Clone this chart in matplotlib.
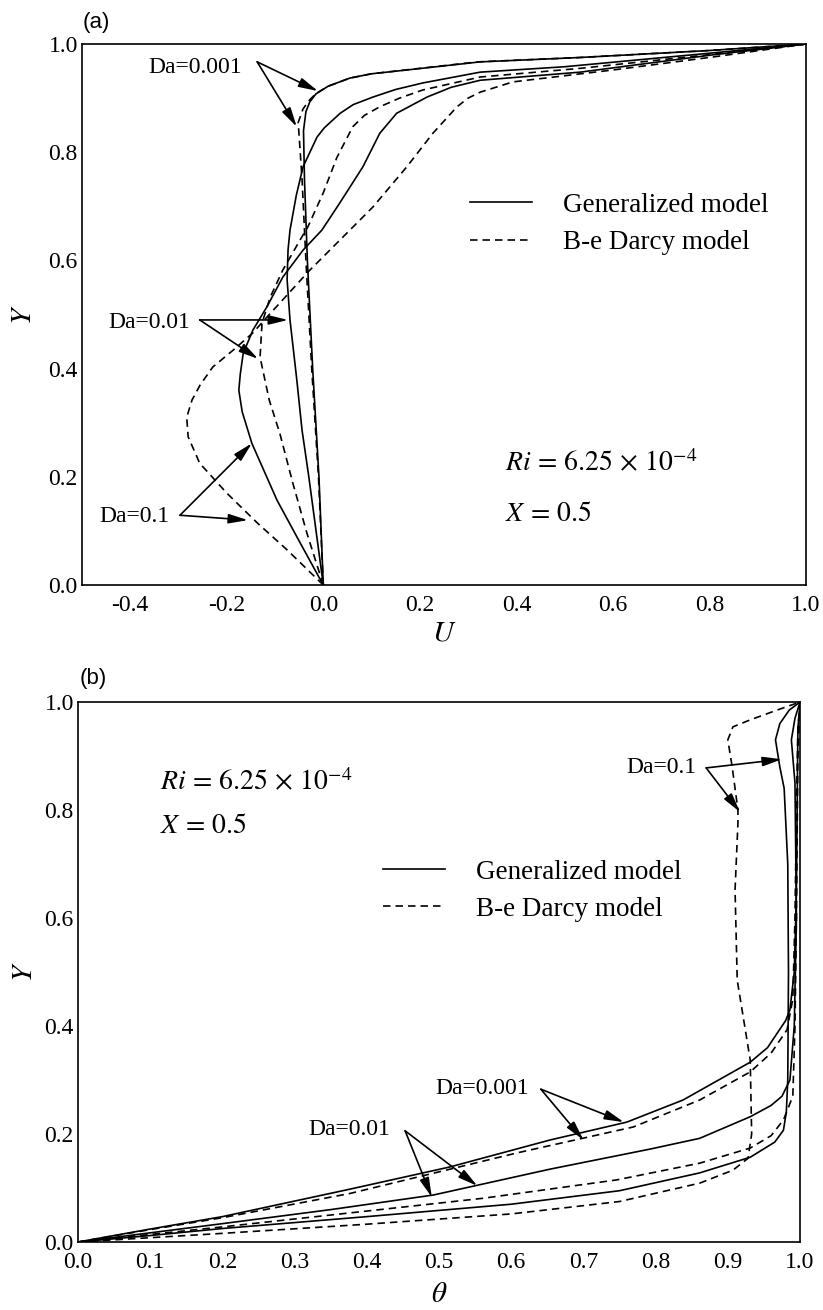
"""
Velocity (a) and temperature (b) profiles at X = 0.5 for three Darcy numbers,
generalized model vs. Brinkman-extended Darcy model.
"""

import matplotlib
matplotlib.use("Agg")  # headless
import matplotlib.pyplot as plt

plt.rcParams["font.family"] = ["Liberation Serif", "DejaVu Serif"]
plt.rcParams["mathtext.fontset"] = "stix"

# ── (a) U(Y) profiles ─────────────────────────────────────────────────────────
a_y_gen_0001 = [0, 0.2, 0.4, 0.6, 0.75, 0.84, 0.875, 0.893, 0.908, 0.922, 0.937, 0.945, 0.952, 0.967, 0.975, 0.988, 1.0]
a_u_gen_0001 = [0, -0.009, -0.022, -0.033, -0.039, -0.041, -0.036, -0.028, -0.015, 0.01, 0.055, 0.1, 0.173, 0.325, 0.53, 0.8, 1.0]
a_y_dar_0001 = [0, 0.2, 0.4, 0.6, 0.75, 0.855, 0.88, 0.895, 0.908, 0.922, 0.937, 0.945, 0.952, 0.967, 0.975, 0.988, 1.0]
a_u_dar_0001 = [0, -0.01, -0.024, -0.036, -0.044, -0.052, -0.042, -0.03, -0.016, 0.01, 0.055, 0.1, 0.17, 0.32, 0.53, 0.8, 1.0]

a_y_gen_001 = [0, 0.1, 0.2, 0.286, 0.38, 0.49, 0.565, 0.62, 0.656, 0.72, 0.773, 0.828, 0.845, 0.872, 0.888, 0.902, 0.916, 0.928, 0.948, 0.958, 0.983, 1.0]
a_u_gen_001 = [0, -0.015, -0.03, -0.044, -0.055, -0.069, -0.075, -0.073, -0.069, -0.056, -0.042, -0.013, 0.002, 0.035, 0.062, 0.103, 0.15, 0.206, 0.325, 0.5, 0.8, 1.0]
a_y_dar_001 = [0, 0.096, 0.188, 0.28, 0.342, 0.421, 0.484, 0.532, 0.582, 0.638, 0.662, 0.725, 0.79, 0.847, 0.868, 0.884, 0.9, 0.915, 0.939, 0.955, 0.981, 1.0]
a_u_dar_001 = [0, -0.034, -0.063, -0.09, -0.112, -0.131, -0.127, -0.11, -0.084, -0.048, -0.032, 0.0, 0.028, 0.061, 0.085, 0.117, 0.158, 0.206, 0.325, 0.532, 0.807, 1.0]

a_y_gen_01 = [0, 0.078, 0.157, 0.262, 0.32, 0.36, 0.39, 0.428, 0.471, 0.514, 0.569, 0.619, 0.656, 0.706, 0.773, 0.835, 0.872, 0.902, 0.92, 0.933, 0.948, 0.98, 1.0]
a_u_gen_01 = [0, -0.048, -0.096, -0.148, -0.168, -0.175, -0.172, -0.166, -0.146, -0.117, -0.084, -0.042, -0.003, 0.034, 0.082, 0.117, 0.152, 0.215, 0.265, 0.325, 0.532, 0.807, 1.0]
a_y_dar_01 = [0, 0.065, 0.115, 0.17, 0.225, 0.274, 0.31, 0.342, 0.37, 0.403, 0.434, 0.466, 0.495, 0.582, 0.656, 0.699, 0.773, 0.835, 0.884, 0.9, 0.911, 0.93, 0.952, 0.976, 1.0]
a_u_dar_01 = [0, -0.075, -0.137, -0.2, -0.256, -0.28, -0.283, -0.272, -0.255, -0.229, -0.187, -0.146, -0.117, -0.028, 0.055, 0.103, 0.173, 0.227, 0.277, 0.3, 0.325, 0.393, 0.6, 0.807, 1.0]

# ── (b) θ(Y) profiles ─────────────────────────────────────────────────────────
b_t_gen_0001 = [0, 0.1, 0.2, 0.377, 0.515, 0.654, 0.76, 0.838, 0.931, 0.955, 0.97, 0.98, 0.986, 0.992, 0.995, 0.996, 0.997, 1.0]
b_y_gen_0001 = [0, 0.024, 0.047, 0.098, 0.139, 0.189, 0.222, 0.263, 0.333, 0.36, 0.39, 0.41, 0.43, 0.5, 0.65, 0.8, 0.95, 1.0]
b_t_dar_0001 = [0, 0.1, 0.2, 0.377, 0.608, 0.769, 0.861, 0.931, 0.96, 0.982, 0.99, 0.993, 0.995, 0.997, 1.0]
b_y_dar_0001 = [0, 0.023, 0.045, 0.09, 0.165, 0.213, 0.263, 0.315, 0.35, 0.393, 0.45, 0.6, 0.8, 0.95, 1.0]

b_t_gen_001 = [0, 0.1, 0.2, 0.35, 0.492, 0.654, 0.792, 0.861, 0.931, 0.96, 0.975, 0.986, 0.992, 0.995, 0.993, 0.988, 0.993, 1.0]
b_y_gen_001 = [0, 0.017, 0.034, 0.06, 0.087, 0.135, 0.172, 0.192, 0.232, 0.253, 0.27, 0.3, 0.4, 0.6, 0.85, 0.93, 0.97, 1.0]
b_t_dar_001 = [0, 0.1, 0.2, 0.35, 0.561, 0.746, 0.861, 0.931, 0.96, 0.977, 0.99, 0.993, 0.995, 0.997, 1.0]
b_y_dar_001 = [0, 0.014, 0.028, 0.05, 0.081, 0.115, 0.146, 0.174, 0.197, 0.226, 0.27, 0.4, 0.6, 0.9, 1.0]

b_t_gen_01 = [0, 0.1, 0.2, 0.4, 0.6, 0.75, 0.861, 0.931, 0.965, 0.977, 0.981, 0.983, 0.984, 0.983, 0.978, 0.972, 0.966, 0.972, 0.985, 1.0]
b_y_gen_01 = [0, 0.012, 0.025, 0.047, 0.07, 0.095, 0.128, 0.157, 0.185, 0.207, 0.24, 0.3, 0.5, 0.7, 0.84, 0.88, 0.93, 0.96, 0.985, 1.0]
b_t_dar_01 = [0, 0.1, 0.2, 0.4, 0.6, 0.75, 0.861, 0.907, 0.928, 0.933, 0.931, 0.913, 0.91, 0.914, 0.914, 0.906, 0.9, 0.907, 0.931, 0.968, 1.0]
b_y_dar_01 = [0, 0.008, 0.016, 0.033, 0.052, 0.075, 0.109, 0.133, 0.155, 0.2, 0.337, 0.485, 0.652, 0.776, 0.8, 0.88, 0.93, 0.954, 0.967, 0.985, 1.0]

a_xticks = [-0.4, -0.2, 0.0, 0.2, 0.4, 0.6, 0.8, 1.0]
b_xticks = [0.0, 0.1, 0.2, 0.3, 0.4, 0.5, 0.6, 0.7, 0.8, 0.9, 1.0]
yticks = [0.0, 0.2, 0.4, 0.6, 0.8, 1.0]

# ── Style ─────────────────────────────────────────────────────────────────────
LW = 1.2
SOLID = dict(color="black", lw=LW, linestyle="-")
DASHED = dict(color="black", lw=LW, linestyle=(0, (4.5, 3)))
ARROW = dict(arrowstyle="-|>,head_length=0.9,head_width=0.22", color="black",
             lw=1.2, mutation_scale=13, shrinkA=0, shrinkB=0)
TICK_FS = 17
LABEL_FS = 17
LEGEND_FS = 19.5
PARAM_FS = 20


def _style_axes(ax, xlim, xticks):
    ax.set_xlim(*xlim)
    ax.set_ylim(0, 1)
    ax.set_xticks(xticks)
    ax.set_yticks(yticks)
    ax.set_xticklabels([f"{t:.1f}" for t in xticks])
    ax.set_yticklabels([f"{t:.1f}" for t in yticks])
    ax.tick_params(length=0, labelsize=TICK_FS)
    ax.tick_params(axis="x", pad=7)
    ax.tick_params(axis="y", pad=3)
    for spine in ax.spines.values():
        spine.set_linewidth(1.2)


def _label(ax, text, origin, tips, text_xy):
    ax.text(*text_xy, text, ha="right", va="center", fontsize=LABEL_FS)
    for tip in tips:
        ax.annotate("", xy=tip, xytext=origin, arrowprops=ARROW)


def _legend(ax, h_gen, h_dar, anchor):
    ax.legend([h_gen, h_dar], ["Generalized model", "B-e Darcy model"],
              loc="upper left", bbox_to_anchor=anchor, frameon=False,
              fontsize=LEGEND_FS, handlelength=2.3, handletextpad=1.15,
              labelspacing=0.45, borderpad=0, borderaxespad=0)


def _params(ax, x, y_ri, y_x):
    ax.text(x, y_ri, r"$Ri\,=\,6.25\,\times\,10^{-4}$", fontsize=PARAM_FS, va="center")
    ax.text(x, y_x, r"$X\,=\,0.5$", fontsize=PARAM_FS, va="center")


fig = plt.figure(figsize=(8.23, 13.10), dpi=100)

# ── Panel (a) ─────────────────────────────────────────────────────────────────
ax1 = fig.add_axes([0.0996, 0.5534, 0.8797, 0.4130])
h_gen, = ax1.plot(a_u_gen_0001, a_y_gen_0001, **SOLID)
h_dar, = ax1.plot(a_u_dar_0001, a_y_dar_0001, **DASHED)
ax1.plot(a_u_gen_001, a_y_gen_001, **SOLID)
ax1.plot(a_u_dar_001, a_y_dar_001, **DASHED)
ax1.plot(a_u_gen_01, a_y_gen_01, **SOLID)
ax1.plot(a_u_dar_01, a_y_dar_01, **DASHED)
_style_axes(ax1, (-0.5, 1.0), a_xticks)

_label(ax1, "Da=0.001", (-0.137, 0.967), [(-0.011, 0.913), (-0.055, 0.847)], (-0.168, 0.957))
_label(ax1, "Da=0.01", (-0.256, 0.49), [(-0.073, 0.49), (-0.135, 0.418)], (-0.276, 0.486))
_label(ax1, "Da=0.1", (-0.297, 0.129), [(-0.148, 0.262), (-0.156, 0.12)], (-0.318, 0.126))

_legend(ax1, h_gen, h_dar, (0.536, 0.725))
_params(ax1, 0.376, 0.225, 0.13)

ax1.set_xlabel(r"$U$", fontsize=21)
ax1.set_ylabel(r"$Y$", fontsize=21)
ax1.xaxis.set_label_coords(0.5, -0.066)
ax1.yaxis.set_label_coords(-0.062, 0.5)
fig.text(0.101, 0.983, "(a)", fontsize=16, family="Liberation Sans", va="center")

# ── Panel (b) ─────────────────────────────────────────────────────────────────
ax2 = fig.add_axes([0.0948, 0.0519, 0.8773, 0.4122])
h_gen, = ax2.plot(b_t_gen_0001, b_y_gen_0001, **SOLID)
h_dar, = ax2.plot(b_t_dar_0001, b_y_dar_0001, **DASHED)
ax2.plot(b_t_gen_001, b_y_gen_001, **SOLID)
ax2.plot(b_t_dar_001, b_y_dar_001, **DASHED)
ax2.plot(b_t_gen_01, b_y_gen_01, **SOLID)
ax2.plot(b_t_dar_01, b_y_dar_01, **DASHED)
_style_axes(ax2, (0.0, 1.0), b_xticks)

_label(ax2, "Da=0.1", (0.87, 0.878), [(0.975, 0.894), (0.917, 0.796)], (0.856, 0.878))
_label(ax2, "Da=0.001", (0.641, 0.283), [(0.756, 0.222), (0.7, 0.189)], (0.624, 0.285))
_label(ax2, "Da=0.01", (0.453, 0.206), [(0.49, 0.083), (0.553, 0.104)], (0.432, 0.208))

_legend(ax2, h_gen, h_dar, (0.422, 0.708))
_params(ax2, 0.114, 0.85, 0.77)

ax2.set_xlabel(r"$\theta$", fontsize=21)
ax2.set_ylabel(r"$Y$", fontsize=21)
ax2.xaxis.set_label_coords(0.5, -0.074)
ax2.yaxis.set_label_coords(-0.056, 0.5)
fig.text(0.097, 0.4817, "(b)", fontsize=16, family="Liberation Sans", va="center")

fig.savefig("out.png", dpi=100, facecolor="white")
